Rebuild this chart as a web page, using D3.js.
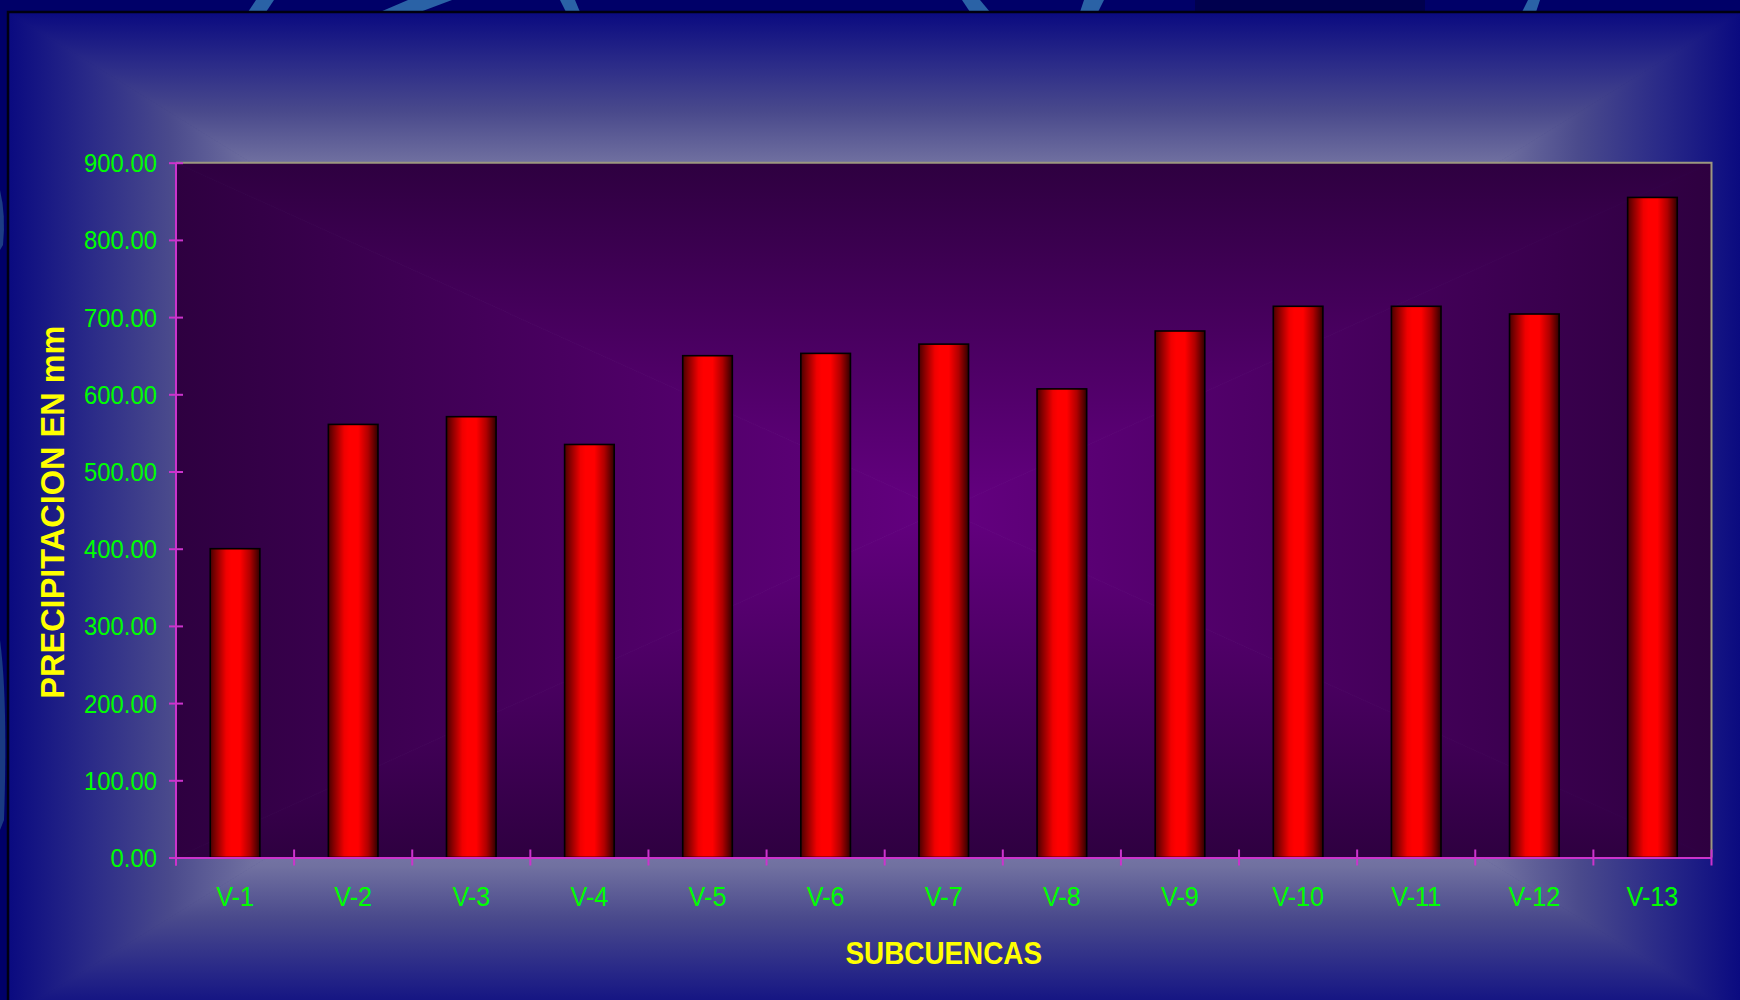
<!DOCTYPE html>
<html>
<head>
<meta charset="utf-8">
<script src="https://cdn.jsdelivr.net/npm/d3@7"></script>
<style>
  html, body { margin: 0; padding: 0; background: #000066; }
  svg { display: block; }
</style>
</head>
<body>
<svg id="chart" width="1740" height="1000"></svg>
<script>
// ---- data ----
const categories = ["V-1","V-2","V-3","V-4","V-5","V-6","V-7","V-8","V-9","V-10","V-11","V-12","V-13"];
const precipitation = [400, 561, 571, 535, 650, 653, 665, 607, 682, 714, 714, 704, 855];
const yTickValues = [0, 100, 200, 300, 400, 500, 600, 700, 800, 900];
const xTitle = "SUBCUENCAS";
const yTitle = "PRECIPITACION EN mm";

const W = 1740, H = 1000;
const svg = d3.select("#chart");
const defs = svg.append("defs");

// ---- outer decorative background ----
svg.append("rect").attr("width", W).attr("height", H).attr("fill", "#000068");
svg.append("rect").attr("x", 1195).attr("y", 0).attr("width", 230).attr("height", 14).attr("fill", "#00004e");
const strips = [
  [[248,12],[256,0],[274,0],[266,12]],
  [[380,12],[408,0],[452,0],[420,12]],
  [[560,0],[575,0],[580,12],[566,12]],
  [[962,0],[980,0],[990,12],[970,12]],
  [[1080,12],[1084,0],[1104,0],[1098,12]],
  [[1522,12],[1528,0],[1540,0],[1536,12]]
];
svg.append("g").selectAll("path").data(strips).join("path")
  .attr("d", d => "M" + d.map(p => p.join(",")).join("L") + "Z")
  .attr("fill", "#2a62a6");
svg.append("path").attr("d", "M0,190 Q6,215 3,245 L0,250Z").attr("fill", "#1c3c84");
svg.append("path").attr("d", "M0,640 Q8,700 4,820 L0,830Z").attr("fill", "#1a3a82");

// ---- chart-area rectangular gradient ----
const F = {x0: 8, y0: 12, x1: 1741, y1: 1018};
const cY = (F.y0 + F.y1) / 2;
const cxL = 819, cxR = 930;
const outerStops = [[0,"#0a0a80"],[0.1,"#2a2a88"],[0.2,"#4a4a8c"],[0.3,"#7070a0"],[0.5,"#9a9ac0"],[1,"#b0b0d0"]];
function lin(id, x1, y1, x2, y2, stops) {
  const g = defs.append("linearGradient").attr("id", id)
    .attr("gradientUnits", "userSpaceOnUse")
    .attr("x1", x1).attr("y1", y1).attr("x2", x2).attr("y2", y2);
  stops.forEach(s => g.append("stop").attr("offset", s[0]).attr("stop-color", s[1]));
}
lin("gT", 0, F.y0, 0, F.y0 + (cY - F.y0), outerStops);
lin("gB", 0, F.y1, 0, cY, outerStops);
lin("gL", F.x0, 0, cxL, 0, outerStops);
lin("gR", F.x1, 0, cxR, 0, outerStops);
const pieces = [
  {d: [[F.x0,F.y0],[F.x1,F.y0],[cxR,cY],[cxL,cY]], f: "gT"},
  {d: [[F.x0,F.y1],[F.x1,F.y1],[cxR,cY],[cxL,cY]], f: "gB"},
  {d: [[F.x0,F.y0],[cxL,cY],[F.x0,F.y1]], f: "gL"},
  {d: [[F.x1,F.y0],[cxR,cY],[F.x1,F.y1]], f: "gR"}
];
svg.append("g").selectAll("path").data(pieces).join("path")
  .attr("d", p => "M" + p.d.map(q => q.join(",")).join("L") + "Z")
  .attr("fill", p => `url(#${p.f})`)
  .attr("stroke", p => `url(#${p.f})`).attr("stroke-width", 0.8);
svg.append("rect").attr("x", F.x0).attr("y", F.y0)
  .attr("width", F.x1 - F.x0 + 20).attr("height", F.y1 - F.y0 + 20)
  .attr("fill", "none").attr("stroke", "#000010").attr("stroke-width", 2.5);

// ---- plot area ----
const P = {l: 176, t: 162.7, r: 1711.5, b: 857.5};
const pcx = (P.l + P.r) / 2, pcy = (P.t + P.b) / 2;
const innerStops = [[0,"#2e0040"],[1,"#640080"]];
lin("pT", 0, P.t, 0, pcy, innerStops);
lin("pB", 0, P.b, 0, pcy, innerStops);
lin("pL", P.l, 0, pcx, 0, innerStops);
lin("pR", P.r, 0, pcx, 0, innerStops);
const plotPieces = [
  {d: [[P.l,P.t],[P.r,P.t],[pcx,pcy]], f: "pT"},
  {d: [[P.l,P.b],[P.r,P.b],[pcx,pcy]], f: "pB"},
  {d: [[P.l,P.t],[pcx,pcy],[P.l,P.b]], f: "pL"},
  {d: [[P.r,P.t],[pcx,pcy],[P.r,P.b]], f: "pR"}
];
svg.append("g").selectAll("path").data(plotPieces).join("path")
  .attr("d", p => "M" + p.d.map(q => q.join(",")).join("L") + "Z")
  .attr("fill", p => `url(#${p.f})`)
  .attr("stroke", p => `url(#${p.f})`).attr("stroke-width", 0.8);
// top / right border
svg.append("path")
  .attr("d", `M${P.l},${P.t}H${P.r}V${P.b}`)
  .attr("fill", "none").attr("stroke", "#9c9880").attr("stroke-width", 2);

// ---- scales ----
const x = d3.scaleBand().domain(categories).range([P.l, P.r]).paddingInner(0.58).paddingOuter(0.29);
const y = d3.scaleLinear().domain([0, 900]).range([P.b, P.t]);

// bar gradient (cylinder look)
const bg = defs.append("linearGradient").attr("id", "barGrad").attr("x1", 0).attr("x2", 1).attr("y1", 0).attr("y2", 0);
[[0,"#4a0000"],[0.12,"#8a0000"],[0.32,"#f00000"],[0.42,"#ff0000"],[0.6,"#ff0000"],[0.8,"#b00000"],[1,"#300000"]]
  .forEach(s => bg.append("stop").attr("offset", s[0]).attr("stop-color", s[1]));

svg.append("g").selectAll("rect").data(categories).join("rect")
  .attr("x", d => x(d))
  .attr("y", (d, i) => y(precipitation[i]))
  .attr("width", x.bandwidth())
  .attr("height", (d, i) => y(0) - y(precipitation[i]))
  .attr("fill", "url(#barGrad)")
  .attr("stroke", "#000000").attr("stroke-width", 1.6);

// ---- axes ----
const axisColor = "#cc33cc";
const yAxis = svg.append("g").attr("transform", `translate(${P.l},0)`)
  .call(d3.axisLeft(y).tickValues(yTickValues).tickFormat(d3.format(".2f")).tickSize(7).tickPadding(19));
yAxis.select(".domain").attr("stroke", axisColor).attr("stroke-width", 2).attr("d", `M0,${P.b + 8}V${P.t}`);
yAxis.selectAll(".tick line").attr("stroke", axisColor).attr("stroke-width", 2).attr("x1", 7).attr("x2", -7);
yAxis.selectAll(".tick text")
  .attr("fill", "#00ff00").attr("font-family", "Liberation Sans, Arial, sans-serif")
  .attr("font-size", 26.5).attr("x", -19 / 0.9).attr("dy", "0.34em")
  .attr("transform", "scale(0.9,1)");

const xAxis = svg.append("g").attr("transform", `translate(0,${P.b})`)
  .call(d3.axisBottom(x).tickSize(0).tickPadding(0));
xAxis.select(".domain").attr("stroke", axisColor).attr("stroke-width", 2);
xAxis.selectAll(".tick text")
  .attr("fill", "#00ff00").attr("font-family", "Liberation Sans, Arial, sans-serif")
  .attr("font-size", 28).attr("y", 48.5).attr("dy", 0)
  .attr("transform", "scale(0.9,1)");
xAxis.selectAll(".tick").each(function() {
  // keep positions after scaling: translate handled by tick group, text at x=0
});
const boundaries = d3.range(categories.length + 1).map(i => P.l + i * x.step());
xAxis.append("g").selectAll("line").data(boundaries).join("line")
  .attr("x1", d => d).attr("x2", d => d).attr("y1", -8).attr("y2", 8)
  .attr("stroke", axisColor).attr("stroke-width", 2);

// ---- titles ----
svg.append("text")
  .attr("transform", `translate(${pcx},964) scale(0.87,1)`)
  .attr("text-anchor", "middle")
  .attr("font-family", "Liberation Sans, Arial, sans-serif").attr("font-weight", "bold")
  .attr("font-size", 32).attr("fill", "#ffff00").text(xTitle);
svg.append("text")
  .attr("transform", `translate(64,${pcy + 2}) rotate(-90)`)
  .attr("text-anchor", "middle")
  .attr("font-family", "Liberation Sans, Arial, sans-serif").attr("font-weight", "bold")
  .attr("font-size", 32.5).attr("fill", "#ffff00").text(yTitle);
</script>
</body>
</html>
